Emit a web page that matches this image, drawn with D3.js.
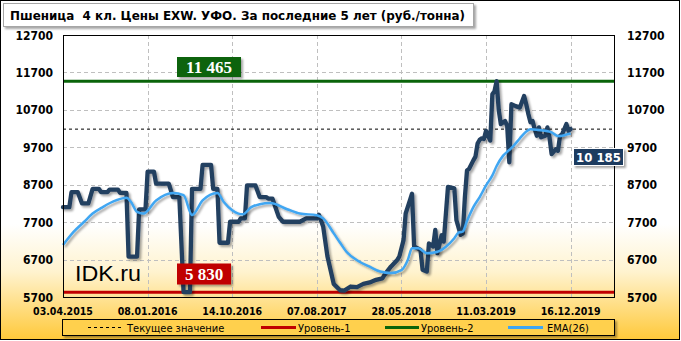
<!DOCTYPE html>
<html>
<head>
<meta charset="utf-8">
<script src="https://cdn.jsdelivr.net/npm/d3@7"></script>
<style>
  body { margin: 0; background: #fff; }
  svg { display: block; }
</style>
</head>
<body>
<div id="chart"></div>
<script>
// weekly price, ruble/ton (week 0 = 03.04.2015)
const weeks = [0, 3, 4, 7, 9, 12, 14, 17, 18, 21, 22, 26, 27, 30, 31, 35, 36, 39, 40, 43,
  44, 50, 52, 55, 57, 60, 61, 65, 66, 70, 71, 73, 74, 78, 79, 83, 84, 86, 87, 91,
  93, 96, 97, 99, 102, 104, 112, 115, 120, 121, 123, 125, 128, 131, 133, 136, 139, 142, 145, 148,
  151, 152, 155, 158, 159, 161, 162, 164, 165, 166, 169, 170, 172, 173, 175, 176, 177, 179, 180, 182,
  185, 186, 188, 189, 190, 191, 192, 194, 195, 196, 197, 198, 199, 200, 202, 203, 204, 205, 206, 207,
  209, 210, 211, 212, 214, 216, 218, 219, 220, 221, 222, 223, 224, 225, 226, 228, 229, 230, 231, 233,
  234, 235, 236, 238, 239, 240];
const price = [8100, 8100, 8500, 8500, 8200, 8200, 8590, 8590, 8500, 8500, 8570, 8570, 8480, 8480, 6780, 6780, 8040, 8040, 9050, 9050,
  8730, 8730, 8370, 8370, 5830, 5830, 8590, 8590, 9230, 9230, 8590, 8590, 7150, 7150, 7710, 7710, 7800, 7800, 8680, 8680,
  8370, 8370, 8330, 8330, 7840, 7710, 7710, 7800, 7800, 7895, 7585, 6790, 6050, 5880, 5870, 5980, 5965, 6050, 6090, 6160,
  6200, 6290, 6510, 6690, 6780, 7220, 7930, 8280, 8460, 7050, 6960, 6430, 6380, 7130, 7050, 7490, 6870, 7350, 7180, 8640,
  8600, 7750, 7360, 7400, 8370, 9080, 9125, 9350, 9450, 9800, 9900, 9940, 9920, 10140, 9880, 11120, 11200, 11465, 10700, 10320,
  10400, 10275, 9300, 10850, 10800, 10760, 11070, 10850, 10590, 10370, 10400, 10190, 10010, 10230, 9965, 10010, 10230, 9965, 9520, 9650,
  9610, 10010, 10050, 10320, 10140, 10185];

// EMA(26)
const emaWeeks = [0, 5, 10, 14, 19, 25, 30, 32, 35, 38, 44, 52, 57, 61, 66, 73, 76, 80, 85, 89,
  93, 98, 106, 112, 120, 123, 128, 131, 134, 140, 145, 150, 155, 160, 163, 165, 168, 172, 177, 181,
  185, 187, 189, 191, 194, 197, 200, 203, 205, 208, 211, 213, 216, 219, 221, 224, 228, 231, 234, 236,
  238, 240];
const ema = [7090, 7440, 7710, 7930, 8110, 8280, 8350, 8250, 7975, 7930, 8280, 8480, 8420, 7890, 8280, 8480, 8240, 8020, 7910, 8100,
  8180, 8210, 8045, 7930, 7885, 7800, 7400, 7150, 6910, 6650, 6510, 6380, 6340, 6420, 6690, 7000, 7000, 6870, 6910, 7045,
  7270, 7420, 7450, 7730, 8100, 8370, 8680, 8950, 9200, 9470, 9630, 9740, 9940, 10120, 10180, 10170, 10140, 10100, 10000, 10010,
  10040, 10070];

const dateWeeks = [0, 40, 80, 120, 160, 200, 240];
const dateLabels = ["03.04.2015", "08.01.2016", "14.10.2016", "07.08.2017", "28.05.2018", "11.03.2019", "16.12.2019"];
const yTicks = [5700, 6700, 7700, 8700, 9700, 10700, 11700, 12700];
const level1 = 5830;
const level2 = 11465;
const current = 10185;
const axisWeeks = 260.5;

const W = 681, H = 341;
const plot = { left: 63, right: 614, top: 35, bottom: 297 };
const sansB = "'DejaVu Sans Condensed', 'DejaVu Sans', sans-serif";

const svg = d3.select("#chart").append("svg")
  .attr("width", W).attr("height", H);

const defs = svg.append("defs");
const bg = defs.append("linearGradient").attr("id", "bg")
  .attr("x1", 0).attr("y1", 0).attr("x2", 0).attr("y2", 1);
bg.append("stop").attr("offset", "0%").attr("stop-color", "#ffffff");
bg.append("stop").attr("offset", "66%").attr("stop-color", "#ffffff");
bg.append("stop").attr("offset", "80%").attr("stop-color", "#fff3cf");
bg.append("stop").attr("offset", "100%").attr("stop-color", "#ffc93a");

const sh = defs.append("filter").attr("id", "shadow")
  .attr("x", "-10%").attr("y", "-10%").attr("width", "130%").attr("height", "140%");
sh.append("feDropShadow").attr("dx", 2).attr("dy", 2).attr("stdDeviation", 1.3)
  .attr("flood-color", "#000").attr("flood-opacity", 0.35);

// background
svg.append("rect").attr("x", 0.5).attr("y", 0.5).attr("width", W - 2).attr("height", H - 2)
  .attr("fill", "url(#bg)").attr("stroke", "#000").attr("stroke-width", 1);

const x = d3.scaleLinear().domain([0, axisWeeks]).range([plot.left, plot.right]);
const y = d3.scaleLinear().domain([5700, 12700]).range([plot.bottom, plot.top]);

// grid
svg.append("g").selectAll("line").data(yTicks.slice(1, -1)).join("line")
  .attr("x1", plot.left).attr("x2", plot.right)
  .attr("y1", d => Math.round(y(d)) + 0.5).attr("y2", d => Math.round(y(d)) + 0.5)
  .attr("stroke", "#bfbfbf").attr("stroke-dasharray", "4,3");
svg.append("g").selectAll("line").data(dateWeeks.slice(1)).join("line")
  .attr("x1", d => Math.round(x(d)) + 0.5).attr("x2", d => Math.round(x(d)) + 0.5)
  .attr("y1", plot.top).attr("y2", plot.bottom)
  .attr("stroke", "#bfbfbf").attr("stroke-dasharray", "4,3");

// level lines
svg.append("line").attr("x1", plot.left).attr("x2", plot.right)
  .attr("y1", y(current)).attr("y2", y(current))
  .attr("stroke", "#000").attr("stroke-width", 1).attr("stroke-dasharray", "3,3");
svg.append("line").attr("x1", plot.left).attr("x2", plot.right)
  .attr("y1", y(level2)).attr("y2", y(level2))
  .attr("stroke", "#0a640a").attr("stroke-width", 3);
svg.append("line").attr("x1", plot.left).attr("x2", plot.right)
  .attr("y1", y(level1)).attr("y2", y(level1))
  .attr("stroke", "#c00000").attr("stroke-width", 3);

// series
const priceData = weeks.map((w, i) => ({ w, v: price[i] }));
const emaData = emaWeeks.map((w, i) => ({ w, v: ema[i] }));

const line = d3.line().x(d => x(d.w)).y(d => y(d.v));
const smooth = d3.line().x(d => x(d.w)).y(d => y(d.v)).curve(d3.curveMonotoneX);

svg.append("path").datum(priceData)
  .attr("d", line)
  .attr("fill", "none").attr("stroke", "#243f60").attr("stroke-width", 4.3)
  .attr("stroke-linejoin", "round").attr("stroke-linecap", "round")
  .attr("filter", "url(#shadow)");

svg.append("path").datum(emaData)
  .attr("d", smooth)
  .attr("fill", "none").attr("stroke", "#3fa6f2").attr("stroke-width", 2.5)
  .attr("stroke-linejoin", "round")
  .attr("filter", "url(#shadow)");

// plot border
svg.append("rect").attr("x", plot.left + 0.5).attr("y", plot.top + 0.5)
  .attr("width", plot.right - plot.left).attr("height", plot.bottom - plot.top)
  .attr("fill", "none").attr("stroke", "#000");

// y axis labels
const yl = svg.append("g").attr("font-family", sansB).attr("font-weight", "bold")
  .attr("font-size", 12).attr("fill", "#000");
yl.selectAll("text.l").data(yTicks).join("text").attr("class", "l")
  .attr("x", 53).attr("y", d => y(d) + 4.5).attr("text-anchor", "end").text(d => d);
yl.selectAll("text.r").data(yTicks).join("text").attr("class", "r")
  .attr("x", 627).attr("y", d => y(d) + 4.5).attr("text-anchor", "start").text(d => d);

// x axis labels
svg.append("g").selectAll("text").data(dateWeeks).join("text")
  .attr("x", d => x(d)).attr("y", 315)
  .attr("text-anchor", "middle")
  .attr("font-family", sansB).attr("font-weight", "bold").attr("font-size", 10.5)
  .text((d, i) => dateLabels[i]);

// title
svg.append("rect").attr("x", 3.5).attr("y", 3.5).attr("width", 470).attr("height", 23)
  .attr("fill", "#fff").attr("stroke", "#a6a6a6").attr("filter", "url(#shadow)");
svg.append("text").attr("x", 10).attr("y", 20)
  .attr("font-family", sansB).attr("font-weight", "bold").attr("font-size", 13)
  .attr("textLength", 455).attr("lengthAdjust", "spacingAndGlyphs")
  .style("white-space", "pre")
  .text("Пшеница  4 кл. Цены EXW. УФО. За последние 5 лет (руб./тонна)");

// value labels
function tag(cx, cy, w, h, fill, label, font, size) {
  svg.append("rect").attr("x", cx - w / 2).attr("y", cy - h / 2)
    .attr("width", w).attr("height", h)
    .attr("fill", fill).attr("filter", "url(#shadow)");
  svg.append("text").attr("x", cx).attr("y", cy + size * 0.36)
    .attr("text-anchor", "middle").attr("fill", "#fff")
    .attr("font-family", font).attr("font-weight", "bold").attr("font-size", size)
    .text(label);
}
const serif = "'Liberation Serif', 'DejaVu Serif', serif";
tag(209, 67, 64, 20, "#0a640a", "11 465", serif, 17);
tag(204, 274, 54, 21, "#c00000", "5 830", serif, 17);
svg.append("rect").attr("x", 573.5).attr("y", 148.5).attr("width", 50).attr("height", 17)
  .attr("fill", "#1f3a5f").attr("stroke", "#fff").attr("filter", "url(#shadow)");
svg.append("text").attr("x", 598.5).attr("y", 161.5).attr("text-anchor", "middle")
  .attr("fill", "#fff").attr("font-family", sansB).attr("font-weight", "bold")
  .attr("font-size", 13).text("10 185");

// watermark
svg.append("text").attr("x", 75).attr("y", 281)
  .attr("font-family", "'Liberation Sans', Arial, sans-serif").attr("font-size", 22)
  .attr("textLength", 66).attr("lengthAdjust", "spacingAndGlyphs")
  .text("IDK.ru");

// legend
const lg = svg.append("g");
lg.append("rect").attr("x", 62.5).attr("y", 319.5).attr("width", 552).attr("height", 16)
  .attr("fill", "#ffd04d").attr("stroke", "#000").attr("filter", "url(#shadow)");
const items = [
  { x0: 88, x1: 122, tx: 127, color: "#000", w: 1, dash: "3,3", label: "Текущее значение" },
  { x0: 261, x1: 296, tx: 298, color: "#c00000", w: 3, dash: null, label: "Уровень-1" },
  { x0: 385, x1: 419, tx: 421, color: "#0a640a", w: 3, dash: null, label: "Уровень-2" },
  { x0: 508, x1: 543, tx: 547, color: "#3fa6f2", w: 3, dash: null, label: "EMA(26)" }
];
items.forEach(it => {
  lg.append("line").attr("x1", it.x0).attr("x2", it.x1).attr("y1", 327.5).attr("y2", 327.5)
    .attr("stroke", it.color).attr("stroke-width", it.w)
    .attr("stroke-dasharray", it.dash);
  lg.append("text").attr("x", it.tx).attr("y", 331.5)
    .attr("font-family", "'DejaVu Sans Condensed', 'DejaVu Sans', sans-serif").attr("font-size", 11)
    .text(it.label);
});
</script>
</body>
</html>
